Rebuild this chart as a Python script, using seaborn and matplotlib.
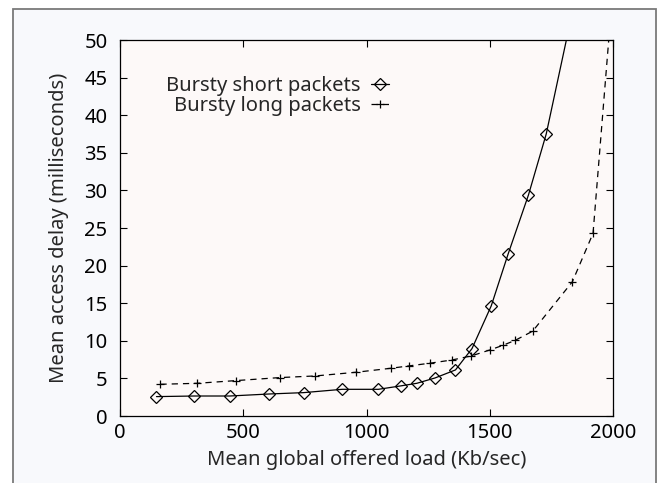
import matplotlib
matplotlib.use("Agg")
import matplotlib.pyplot as plt
import seaborn as sns
import pandas as pd
from matplotlib.patches import Rectangle

# Bursty short packets: offered load (Kb/sec) vs mean access delay (ms)
short_load = [148, 301, 445, 606, 745, 901, 1048, 1138, 1204, 1278, 1361,
              1428, 1506, 1574, 1657, 1729, 1850]
short_delay = [2.58, 2.66, 2.66, 2.93, 3.11, 3.55, 3.55, 4.0, 4.35, 5.06,
               6.13, 8.97, 14.65, 21.5, 29.4, 37.5, 56.0]

# Bursty long packets
long_load = [164, 313, 470, 648, 793, 958, 1099, 1171, 1257, 1348, 1425,
             1501, 1554, 1604, 1674, 1835, 1919, 1995]
long_delay = [4.22, 4.35, 4.71, 5.11, 5.33, 5.82, 6.35, 6.66, 7.02, 7.46,
              7.99, 8.79, 9.41, 10.08, 11.28, 17.85, 24.3, 55.0]

x_ticks = [0, 500, 1000, 1500, 2000]
y_ticks = [0, 5, 10, 15, 20, 25, 30, 35, 40, 45, 50]

sns.set_theme(style="ticks")
plt.rcParams["font.family"] = ["Noto Sans", "DejaVu Sans"]

FS = 14.5
DASH = (5, 4)

short_df = pd.DataFrame({"load": short_load, "delay": short_delay})
long_df = pd.DataFrame({"load": long_load, "delay": long_delay})

fig = plt.figure(figsize=(6.63, 4.83), dpi=100, facecolor="white")
# light page panel with a grey border behind the plot
fig.patches.append(Rectangle((13 / 663, -0.05), (656 - 13) / 663, 1.05 - 9 / 483,
                             transform=fig.transFigure, facecolor="#f8f9fc",
                             edgecolor="#7a7a7a", linewidth=1.3, zorder=-5))
ax = fig.add_axes([0.181, 0.1387, 0.7436, 0.7783])
ax.set_zorder(1)
ax.set_facecolor("#fdf9f8")

sns.lineplot(data=short_df, x="load", y="delay", ax=ax, color="black",
             linewidth=0.9, marker="D", markersize=5.8, markerfacecolor="none",
             markeredgecolor="black", markeredgewidth=0.9,
             label="Bursty short packets")
sns.lineplot(data=long_df, x="load", y="delay", ax=ax, color="black",
             linewidth=0.9, marker="+", markersize=6,
             markeredgecolor="black", markeredgewidth=0.9,
             label="Bursty long packets")
ax.lines[1].set_dashes(DASH)

ax.set_xlim(0, 2000)
ax.set_ylim(0, 50)
ax.set_xticks(x_ticks)
ax.set_yticks(y_ticks)
ax.tick_params(direction="in", length=5, width=0.8, top=True, right=True,
               labelsize=FS, colors="black")
ax.tick_params(axis="x", pad=5)
ax.tick_params(axis="y", pad=9)
for side in ax.spines.values():
    side.set_visible(True)
    side.set_linewidth(0.9)
    side.set_color("black")

ax.set_xlabel("Mean global offered load (Kb/sec)", fontsize=FS, labelpad=5)
ax.set_ylabel("Mean access delay (milliseconds)", fontsize=FS, labelpad=11)

leg = ax.legend(loc="upper right", bbox_to_anchor=(0.546, 0.905), frameon=False,
                markerfirst=False, handlelength=0.9, handletextpad=0.5,
                labelspacing=0.0, fontsize=FS, borderaxespad=0, borderpad=0)
leg.get_lines()[1].set_dashes(DASH)

fig.savefig("out.png", dpi=100, facecolor=fig.get_facecolor())
